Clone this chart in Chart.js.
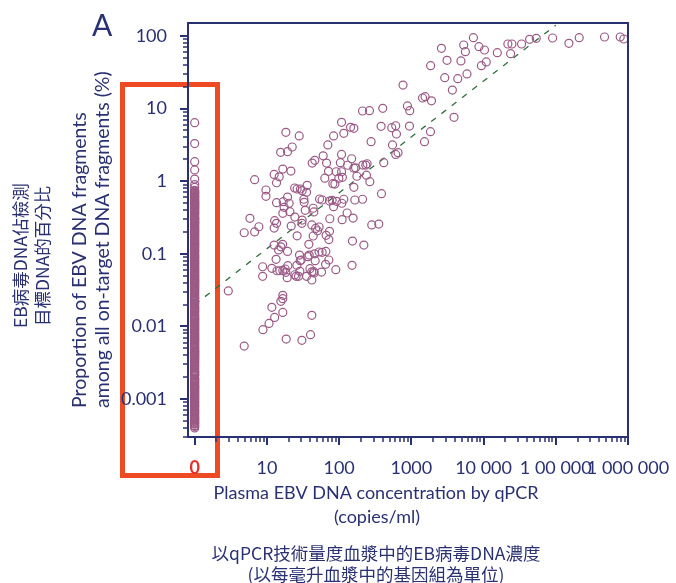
<!DOCTYPE html>
<html lang="zh-Hant">
<head>
<meta charset="UTF-8">
<title>EBV DNA proportion vs qPCR</title>
<style>
  html, body { margin: 0; padding: 0; background: #fff; }
  #wrap { width: 676px; height: 583px; }
</style>
</head>
<body>
<div id="wrap"><canvas id="ebvChart" width="676" height="583"></canvas></div>
<script src="https://cdn.jsdelivr.net/npm/chart.js"></script>
<script>
// log axis position used for the "0 copies/ml" column
const ZERO_POS = 1;

// samples with qPCR = 0 : proportion (%)
const zeroY = [
  6.4, 3.3, 1.86, 1.43, 1.07, 0.9, 0.82,
  0.75, 0.73, 0.71, 0.69, 0.68, 0.66, 0.64, 0.62, 0.61, 0.6, 0.58, 0.565, 0.55, 0.535,
  0.52, 0.51, 0.5, 0.49, 0.48, 0.47, 0.46, 0.45, 0.44, 0.43, 0.42, 0.41, 0.4, 0.39,
  0.38, 0.37, 0.36, 0.35, 0.345, 0.33, 0.32, 0.31, 0.305, 0.3, 0.29, 0.28, 0.275, 0.27,
  0.265, 0.26, 0.25, 0.245, 0.237, 0.23, 0.225, 0.22, 0.215, 0.21, 0.205, 0.2, 0.195,
  0.19, 0.185, 0.18, 0.175, 0.17, 0.165, 0.16, 0.155, 0.152, 0.148, 0.144, 0.14, 0.137,
  0.133, 0.13, 0.126, 0.123, 0.12, 0.116, 0.113, 0.11, 0.107, 0.104, 0.1,
  0.097, 0.095, 0.092, 0.09, 0.088, 0.086, 0.083, 0.081, 0.079, 0.077, 0.075, 0.073,
  0.071, 0.069, 0.067, 0.066, 0.064, 0.062, 0.06, 0.059, 0.057, 0.056, 0.054, 0.053,
  0.051, 0.05, 0.049, 0.048, 0.046, 0.045, 0.044, 0.043, 0.042, 0.041, 0.04, 0.039,
  0.038, 0.037, 0.036, 0.035, 0.034, 0.033, 0.032, 0.031, 0.03, 0.029, 0.028, 0.027,
  0.026, 0.025, 0.0245, 0.024, 0.023, 0.022, 0.021, 0.0205, 0.02, 0.019, 0.0185, 0.018,
  0.0175, 0.017, 0.0165, 0.016, 0.0155, 0.0152, 0.0145, 0.0141, 0.0137, 0.0133, 0.013,
  0.0127, 0.0123, 0.012, 0.0116, 0.0113, 0.011, 0.0107, 0.0105, 0.01,
  0.0098, 0.0095, 0.0092, 0.009, 0.0087, 0.0085, 0.0082, 0.008, 0.0078, 0.0076, 0.0074,
  0.0072, 0.007, 0.0068, 0.0066, 0.0065, 0.0063, 0.0061, 0.006, 0.0058, 0.0056, 0.0055,
  0.0053, 0.0052, 0.005, 0.0049, 0.0047, 0.0046, 0.0045, 0.0044, 0.0043, 0.0042, 0.0041,
  0.004, 0.0039, 0.0038, 0.0037, 0.0036, 0.0035, 0.0034, 0.0033, 0.0032, 0.0031, 0.003,
  0.0029, 0.0028, 0.0027, 0.0026, 0.0025, 0.0024, 0.00235, 0.0023, 0.0022, 0.00215,
  0.0021, 0.00195, 0.0019, 0.00185, 0.0018, 0.00175, 0.0017, 0.00165, 0.0016, 0.00155,
  0.0015, 0.00147, 0.00143, 0.0014, 0.00135, 0.0013, 0.00128, 0.00124, 0.0012, 0.00117,
  0.00114, 0.0011, 0.00108, 0.00105, 0.00102,
  0.00099, 0.00096, 0.00093, 0.0009, 0.00088, 0.00085, 0.00082, 0.0008, 0.00078,
  0.00075, 0.00072, 0.0007, 0.00068, 0.00066, 0.00064, 0.00062, 0.0006, 0.00058,
  0.00056, 0.00055, 0.00053, 0.00052, 0.0005, 0.00049, 0.00047, 0.00046, 0.00045,
  0.00043, 0.00042, 0.0004
];

// samples with qPCR > 0 : copies/ml
const cloudX = [
  7230, 2610, 5310, 5600, 8630, 10300, 15500, 21700, 24700, 23700,
  33600, 43400, 53700, 90300, 152000, 211000, 473000, 780000, 875000, 3120,
  4860, 9330, 10900, 1850, 2900, 4390, 5890, 3700, 767, 1430,
  1550, 1900, 883, 951, 3900, 211, 263, 402, 108, 144,
  160, 381, 535, 608, 942, 622, 1840, 1520, 18.3, 28.0,
  83.8, 116, 277, 548, 69.8, 22.4, 15.5, 19.3, 108, 149,
  60.1, 608, 655, 46.1, 42.4, 67.0, 104, 131, 169, 160,
  213, 244, 234, 415, 16.6, 21.5, 12.6, 14.8, 13.6, 6.76,
  71.3, 91.0, 108, 63.4, 81.8, 87.3, 99.1, 111, 176, 239,
  266, 160, 386, 9.7, 9.7, 24.2, 26.2, 29.2, 30.8, 36.1,
  35.4, 19.3, 13.6, 16.8, 20.3, 17.3, 32.5, 32.8, 53.6, 58.2,
  73.6, 80.0, 92.0, 116, 109, 83.8, 165, 211, 43.7, 33.9,
  44.7, 20.8, 16.6, 24.4, 30.8, 74.3, 110, 129, 156, 5.82,
  12.8, 13.6, 7.74, 6.76, 4.85, 12.6, 21.7, 30.5, 41.9, 47.2,
  52.8, 50.2, 73.6, 66.1, 43.7, 26.2, 283, 354, 12.6, 16.5,
  38.1, 72.1, 153, 220, 14.5, 15.6, 13.4, 19.3, 28.3, 28.9,
  36.9, 38.5, 45.7, 46.6, 52.8, 58.2, 65.5, 72.1, 64.9, 90.0,
  151, 8.73, 8.73, 11.7, 13.8, 15.1, 16.6, 17.9, 18.3, 19.5,
  19.1, 24.4, 25.4, 27.4, 26.0, 28.6, 29.8, 35.4, 39.4, 41.9,
  41.9, 44.3, 45.1, 57.1, 2.92, 16.6, 16.6, 15.6, 11.7, 12.8,
  16.6, 10.7, 8.81, 41.9, 40.2, 18.5, 30.5, 4.85
];
// proportion (%) for the same samples
const cloudY = [
  94.8, 67.7, 75.2, 60.8, 71.3, 64.1, 58.9, 77.6, 77.6, 57.0,
  77.6, 90.1, 93.0, 93.8, 79.3, 94.8, 96.9, 96.9, 90.9, 46.2,
  45.3, 39.0, 43.9, 39.0, 26.7, 25.8, 30.0, 18.0, 21.1, 14.0,
  14.6, 12.8, 10.9, 9.35, 7.59, 9.27, 9.35, 10.1, 6.47, 5.52,
  5.35, 5.70, 5.46, 5.81, 5.75, 4.47, 4.81, 3.50, 4.72, 4.20,
  4.20, 4.57, 3.50, 3.16, 3.16, 2.96, 2.50, 2.55, 2.34, 2.04,
  2.24, 2.34, 2.47, 1.94, 1.78, 1.78, 1.80, 1.66, 1.53, 1.51,
  1.67, 1.74, 1.67, 1.80, 1.47, 1.38, 1.24, 1.15, 0.953, 1.05,
  1.37, 1.35, 1.35, 1.10, 0.925, 0.914, 1.10, 1.13, 1.17, 1.21,
  0.984, 0.824, 0.673, 0.757, 0.619, 0.806, 0.781, 0.781, 0.740, 0.879,
  0.703, 0.605, 0.506, 0.522, 0.497, 0.437, 0.564, 0.512, 0.569, 0.551,
  0.533, 0.546, 0.528, 0.564, 0.497, 0.446, 0.551, 0.564, 0.424, 0.397,
  0.377, 0.380, 0.361, 0.321, 0.292, 0.304, 0.295, 0.365, 0.311, 0.308,
  0.286, 0.263, 0.236, 0.200, 0.195, 0.226, 0.241, 0.263, 0.250, 0.224,
  0.234, 0.208, 0.204, 0.180, 0.176, 0.177, 0.250, 0.257, 0.132, 0.135,
  0.135, 0.157, 0.150, 0.132, 0.113, 0.125, 0.0839, 0.108, 0.0962, 0.0804,
  0.0912, 0.0962, 0.100, 0.0804, 0.106, 0.105, 0.108, 0.0822, 0.0716, 0.0604,
  0.0695, 0.0664, 0.0490, 0.0631, 0.0585, 0.0585, 0.059, 0.0618, 0.0556, 0.0686,
  0.0469, 0.0515, 0.0490, 0.049, 0.0695, 0.0574, 0.0822, 0.049, 0.0624, 0.0566,
  0.0436, 0.057, 0.0544, 0.0561, 0.0308, 0.0268, 0.0241, 0.0222, 0.0183, 0.0133,
  0.0156, 0.0110, 0.00902, 0.0142, 0.00769, 0.00670, 0.00644, 0.00537
];

// dashed fit line
const fitX = [1, 100000];
const fitY = [0.02, 141];

const xTickLabels = { 1: '0', 10: '10', 100: '100', 1000: '1000', 10000: '10 000', 100000: '1 00 000', 1000000: '1 000 000' };
const yTickLabels = ['0.001', '0.01', '0.1', '1', '10', '100'];

const NAVY = '#2a3172';
const RED = '#e8302a';
const BOX = '#ee4b24';
const DOT = '#9b5a86';

function logTicks(min, max) {
  const out = [];
  for (let k = -5; k <= 7; k++) {
    for (let m = 1; m <= 9; m++) {
      const v = parseFloat((m * Math.pow(10, k)).toPrecision(6));
      if (v >= min * 0.999 && v <= max * 1.001) out.push({ value: v, big: m === 1 });
    }
  }
  return out;
}

const decor = {
  id: 'decor',
  beforeDraw(chart) {
    const ctx = chart.ctx;
    ctx.save();
    // red highlight box round the zero column
    ctx.strokeStyle = BOX;
    ctx.lineWidth = 5;
    ctx.strokeRect(122.5, 84.5, 95, 391);

    ctx.fillStyle = NAVY;
    ctx.font = '30px Lato';
    ctx.textAlign = 'left';
    ctx.textBaseline = 'alphabetic';
    ctx.fillText('A', 92, 36);

    // y titles, rotated
    const vtext = (str, x, y, font) => {
      ctx.save();
      ctx.translate(x, y);
      ctx.rotate(-Math.PI / 2);
      ctx.font = font;
      ctx.textAlign = 'left';
      ctx.textBaseline = 'middle';
      ctx.fillText(str, 0, 0);
      ctx.restore();
    };
    vtext('EB病毒DNA佔檢測', 20, 328, '17.5px "Noto Sans CJK TC"');
    vtext('目標DNA的百分比', 42, 326, '17.5px "Noto Sans CJK TC"');
    vtext('Proportion of EBV DNA fragments', 80, 408, '19.5px Lato');
    vtext('among all on-target DNA fragments (%)', 103, 408, '19.5px Lato');

    // x titles
    ctx.textAlign = 'center';
    ctx.textBaseline = 'middle';
    ctx.font = '18px Lato';
    ctx.fillText('Plasma EBV DNA concentration by qPCR', 376, 493);
    ctx.fillText('(copies/ml)', 377, 517);
    ctx.font = '17.5px "Noto Sans CJK TC"';
    ctx.fillText('以qPCR技術量度血漿中的EB病毒DNA濃度', 376, 553);
    ctx.fillText('(以每毫升血漿中的基因組為單位)', 376, 574);
    ctx.restore();
  },
  afterDraw(chart) {
    const { ctx, chartArea: a, scales: { x, y } } = chart;
    ctx.save();
    ctx.strokeStyle = NAVY;
    ctx.lineWidth = 2;
    ctx.strokeRect(a.left, a.top, a.right - a.left, a.bottom - a.top);
    x.ticks.forEach(t => {
      const px = Math.round(x.getPixelForValue(t.value));
      ctx.lineWidth = t.big ? 2 : 1.5;
      ctx.beginPath();
      ctx.moveTo(px, a.bottom);
      ctx.lineTo(px, a.bottom + (t.big ? 8 : 5));
      ctx.stroke();
    });
    y.ticks.forEach(t => {
      const py = Math.round(y.getPixelForValue(t.value));
      ctx.lineWidth = t.big ? 2 : 1.5;
      ctx.beginPath();
      ctx.moveTo(a.left, py);
      ctx.lineTo(a.left - (t.big ? 8 : 5), py);
      ctx.stroke();
    });
    ctx.restore();
  }
};

const ctx = document.getElementById('ebvChart').getContext('2d');
const ebvChart = new Chart(ctx, {
  type: 'scatter',
  data: {
    datasets: [
      {
        label: 'qPCR 0',
        data: zeroY.map(v => ({ x: ZERO_POS, y: v })),
        borderColor: DOT,
        backgroundColor: 'rgba(0,0,0,0)',
        borderWidth: 1.2,
        pointRadius: 4
      },
      {
        label: 'qPCR > 0',
        data: cloudX.map((v, i) => ({ x: v, y: cloudY[i] })),
        borderColor: DOT,
        backgroundColor: 'rgba(0,0,0,0)',
        borderWidth: 1.2,
        pointRadius: 4
      },
      {
        label: 'fit',
        data: fitX.map((v, i) => ({ x: v, y: fitY[i] })),
        showLine: true,
        borderColor: '#2f6e3c',
        borderWidth: 1.3,
        borderDash: [6, 7],
        pointRadius: 0
      }
    ]
  },
  options: {
    responsive: false,
    animation: false,
    devicePixelRatio: 1,
    layout: { padding: { left: 0, top: 23, right: 48, bottom: 106 } },
    plugins: { legend: { display: false }, tooltip: { enabled: false } },
    scales: {
      x: {
        type: 'logarithmic',
        min: 0.808,
        max: 1000000,
        grid: { display: false },
        border: { display: false },
        afterBuildTicks: s => { s.ticks = logTicks(1, 1000000); },
        afterFit: s => { s.height = 40; s.paddingLeft = 0; s.paddingRight = 0; },
        ticks: {
          autoSkip: false,
          maxRotation: 0,
          padding: 12,
          callback: v => xTickLabels[v] || '',
          color: c => (c.tick && c.tick.value === ZERO_POS ? RED : NAVY),
          font: c => (c.tick && c.tick.value === ZERO_POS
            ? { family: 'Lato', size: 18, weight: 'bold' }
            : { family: 'Lato', size: 18 })
        }
      },
      y: {
        type: 'logarithmic',
        min: 0.0003,
        max: 151,
        grid: { display: false },
        border: { display: false },
        afterBuildTicks: s => { s.ticks = logTicks(0.0003, 151); },
        afterFit: s => { s.width = 188; s.paddingTop = 0; s.paddingBottom = 0; },
        ticks: {
          autoSkip: false,
          padding: 13,
          color: NAVY,
          font: { family: 'Lato', size: 18 },
          callback: (v, i, ticks) => {
            if (!ticks[i].big) return '';
            const e = Math.round(Math.log10(v));
            return yTickLabels[e + 3] || '';
          }
        }
      }
    }
  },
  plugins: [decor]
});
</script>
</body>
</html>
